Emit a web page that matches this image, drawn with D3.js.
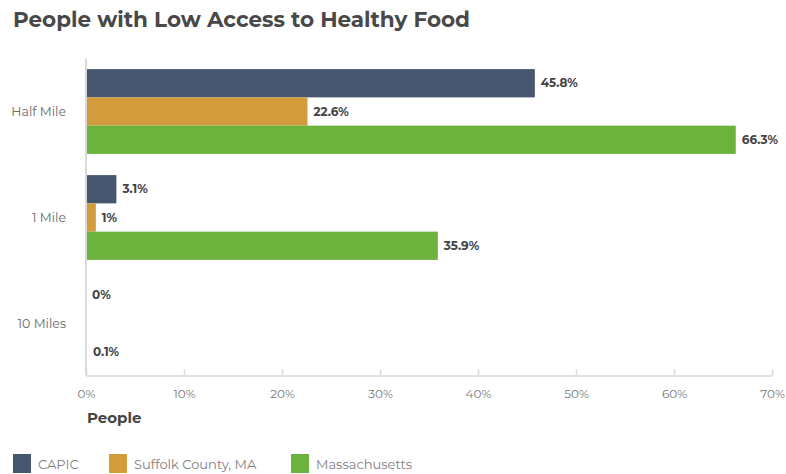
<!DOCTYPE html>
<html>
<head>
<meta charset="utf-8">
<script src="https://cdn.jsdelivr.net/npm/d3@7"></script>
<style>
  html, body { margin: 0; padding: 0; background: #fff; }
  svg { display: block; }
</style>
</head>
<body>
<svg id="chart" width="786" height="474"></svg>
<script>
// Chart data
const categories = ["Half Mile", "1 Mile", "10 Miles"];
const seriesNames = ["CAPIC", "Suffolk County, MA", "Massachusetts"];
const seriesColors = ["#465670", "#d29b3b", "#6cb33e"];
const capicValues = [45.8, 3.1, 0];
const suffolkValues = [22.6, 1, null];
const massValues = [66.3, 35.9, 0.1];
const tickValues = [0, 10, 20, 30, 40, 50, 60, 70];

const seriesValues = [capicValues, suffolkValues, massValues];

const svg = d3.select("#chart");
const font = "'Montserrat', 'Inter', 'DejaVu Sans', sans-serif";

const plot = { left: 86, right: 772, top: 58.5, bottom: 376.5 };

const x = d3.scaleLinear().domain([0, 70]).range([plot.left, plot.right]);
const y = d3.scaleBand().domain(categories).range([plot.top, plot.bottom])
  .paddingInner(0.2).paddingOuter(0.1);
const ySub = d3.scaleBand().domain(seriesNames).range([0, y.bandwidth()]).padding(0);

// Title
svg.append("text")
  .attr("x", 13).attr("y", 27)
  .attr("font-family", font).attr("font-weight", 700).attr("font-size", 21.5)
  .attr("fill", "#484848")
  .attr("textLength", 457).attr("lengthAdjust", "spacingAndGlyphs")
  .text("People with Low Access to Healthy Food");

// Bars
const rows = [];
categories.forEach((c, i) => {
  seriesNames.forEach((s, j) => {
    rows.push({ category: c, series: s, value: seriesValues[j][i], color: seriesColors[j] });
  });
});

const bars = svg.append("g");
bars.selectAll("rect")
  .data(rows.filter(d => d.value !== null))
  .join("rect")
  .attr("x", x(0))
  .attr("y", d => y(d.category) + ySub(d.series))
  .attr("width", d => x(d.value) - x(0))
  .attr("height", ySub.bandwidth())
  .attr("fill", d => d.color);

// Value labels
svg.append("g").selectAll("text")
  .data(rows.filter(d => d.value !== null))
  .join("text")
  .attr("x", d => x(d.value) + 6)
  .attr("y", d => y(d.category) + ySub(d.series) + ySub.bandwidth() / 2)
  .attr("dy", "0.35em")
  .attr("font-family", font).attr("font-weight", 700).attr("font-size", 12)
  .attr("fill", "#444")
  .text(d => d.value + "%");

// Category labels
svg.append("g").selectAll("text")
  .data(categories)
  .join("text")
  .attr("x", 66)
  .attr("y", d => y(d) + y.bandwidth() / 2)
  .attr("dy", "0.35em")
  .attr("text-anchor", "end")
  .attr("font-family", font).attr("font-size", 12.5)
  .attr("fill", "#6a6a6a")
  .text(d => d);

// Axes lines
const axisColor = "#d9d9d9";
const baseY = 375.5;
svg.append("line")
  .attr("x1", plot.left).attr("x2", plot.left)
  .attr("y1", plot.top).attr("y2", baseY)
  .attr("stroke", axisColor).attr("stroke-width", 2);

const xAxis = d3.axisBottom(x)
  .tickValues(tickValues)
  .tickSize(0)
  .tickFormat(d => d + "%");
const gx = svg.append("g").attr("transform", `translate(0,${baseY})`).call(xAxis);
gx.select(".domain").attr("stroke", axisColor).attr("stroke-width", 1.5);
gx.selectAll(".tick text")
  .attr("y", 14)
  .attr("font-family", font).attr("font-size", 12)
  .attr("fill", "#777");
gx.selectAll(".tick").append("line")
  .attr("y1", 0).attr("y2", -6)
  .attr("stroke", axisColor).attr("stroke-width", 1.5);

// Axis title
svg.append("text")
  .attr("x", 87).attr("y", 423)
  .attr("font-family", font).attr("font-weight", 700).attr("font-size", 15)
  .attr("fill", "#444")
  .text("People");

// Legend
const legendX = [13, 109, 291];
const legend = svg.append("g").selectAll("g")
  .data(seriesNames)
  .join("g")
  .attr("transform", (d, i) => `translate(${legendX[i]},454)`);
legend.append("rect")
  .attr("width", 18).attr("height", 19)
  .attr("fill", (d, i) => seriesColors[i]);
legend.append("text")
  .attr("x", 25).attr("y", 15)
  .attr("font-family", font).attr("font-size", 13)
  .attr("fill", "#808080")
  .text(d => d);
</script>
</body>
</html>
